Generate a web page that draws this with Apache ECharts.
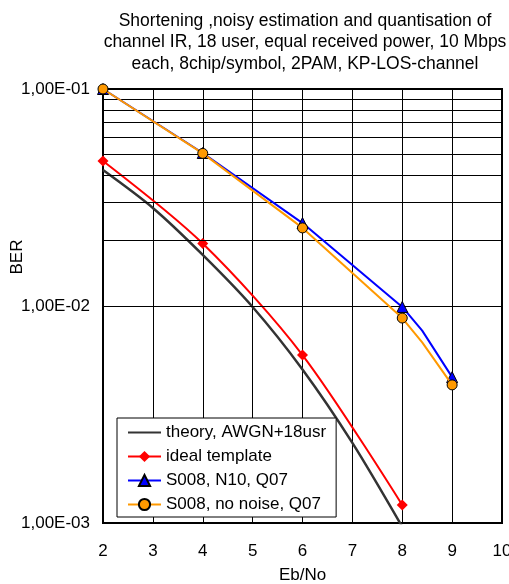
<!DOCTYPE html>
<html>
<head>
<meta charset="utf-8">
<script src="https://cdn.jsdelivr.net/npm/echarts@6/dist/echarts.min.js"></script>
<style>
html,body{margin:0;padding:0;background:#fff;}
#c{width:509px;height:584px;}
</style>
</head>
<body>
<div id="c"></div>
<script>
// ---- data ----
const titleText = 'Shortening ,noisy estimation and quantisation of\nchannel IR, 18 user, equal received power, 10 Mbps\neach, 8chip/symbol, 2PAM, KP-LOS-channel';
const seriesNames = ['theory, AWGN+18usr', 'ideal template', 'S008, N10, Q07', 'S008, no noise, Q07'];
const theoryX = [2, 3, 4, 5, 6, 7, 8];
const theoryY = [0.0423, 0.0283, 0.0172, 0.0099, 0.0051, 0.00234, 0.00096];
const idealX = [2, 4, 6, 8];
const idealY = [0.0466, 0.0194, 0.00594, 0.00121];
const n10X = [2, 4, 6, 8, 8.4, 9];
const n10Y = [0.1, 0.0507, 0.0241, 0.0099, 0.0077, 0.0047];
const noNoiseX = [2, 4, 6, 8, 8.4, 9];
const noNoiseY = [0.1, 0.0505, 0.0229, 0.0088, 0.0068, 0.00433];
const markedX = [2, 3, 4, 5, 6, 7, 8, 9, 10]; // points that carry a marker
const minorGridY = [0.002, 0.003, 0.004, 0.005, 0.006, 0.007, 0.008, 0.009,
                    0.02, 0.03, 0.04, 0.05, 0.06, 0.07, 0.08, 0.09];
const xMin = 2, xMax = 10, yMin = 0.001, yMax = 0.1;

const FONT = 'Liberation Sans';

function pts(xs, ys) {
  return xs.map((x, i) => {
    const d = { value: [x, ys[i]] };
    if (markedX.indexOf(x) < 0) d.symbol = 'none';
    return d;
  });
}
function sciLabel(v) {
  const e = Math.round(Math.log10(v));
  return '1,00E-' + String(-e).padStart(2, '0');
}

const chart = echarts.init(document.getElementById('c'), null, { renderer: 'canvas' });
chart.setOption({
  animation: false,
  backgroundColor: '#fff',
  title: {
    text: titleText,
    left: 300,
    top: 5,
    textAlign: 'center',
    textStyle: { fontFamily: FONT, fontSize: 17.5, fontWeight: 'normal', color: '#000', lineHeight: 21.5 }
  },
  grid: {
    left: 103, right: 7, top: 89, bottom: 61,
    outerBoundsMode: 'none', containLabel: false,
    show: true, borderColor: '#000', borderWidth: 2, backgroundColor: 'transparent'
  },
  legend: {
    data: [
      { name: seriesNames[0], itemStyle: { opacity: 0 } },
      { name: seriesNames[1] },
      { name: seriesNames[2] },
      { name: seriesNames[3] }
    ],
    orient: 'vertical',
    left: 117, top: 418,
    padding: [6, 10, 4, 10],
    itemGap: 7,
    itemWidth: 33, itemHeight: 14,
    backgroundColor: '#fff',
    borderColor: '#000', borderWidth: 1,
    textStyle: { fontFamily: FONT, fontSize: 17, color: '#000' }
  },
  xAxis: {
    type: 'value', min: xMin, max: xMax, interval: 1,
    name: 'Eb/No', nameLocation: 'middle', nameGap: 44,
    nameTextStyle: { fontFamily: FONT, fontSize: 17, color: '#000' },
    axisLine: { show: true, lineStyle: { color: '#000', width: 2 } },
    axisTick: { show: false },
    axisLabel: { fontFamily: FONT, fontSize: 17, color: '#000', margin: 20 },
    splitLine: { show: true, lineStyle: { color: '#000', width: 1 } }
  },
  yAxis: {
    type: 'log', logBase: 10, min: yMin, max: yMax,
    axisLine: { show: true, lineStyle: { color: '#000', width: 2 } },
    axisTick: { show: false },
    axisLabel: { fontFamily: FONT, fontSize: 17, color: '#000', margin: 13, formatter: sciLabel },
    splitLine: { show: true, lineStyle: { color: '#000', width: 1 } }
  },
  graphic: [{
    type: 'text',
    x: 17, y: 257,
    rotation: Math.PI / 2,
    style: { text: 'BER', font: '17px "Liberation Sans"', fill: '#000', align: 'center', verticalAlign: 'middle' }
  }],
  series: [
    {
      name: 'grid-minor', type: 'line', data: [], z: 1, silent: true,
      markLine: {
        silent: true, symbol: ['none', 'none'], label: { show: false },
        lineStyle: { color: '#000', width: 1, type: 'solid' },
        data: minorGridY.map(v => ({ yAxis: v }))
      }
    },
    {
      name: seriesNames[0], type: 'line', z: 3,
      data: pts(theoryX, theoryY).map(d => ({ value: d.value })),
      smooth: 0.3, showSymbol: false, symbol: 'none',
      color: '#333333',
      lineStyle: { color: '#333333', width: 2.5 }
    },
    {
      name: seriesNames[1], type: 'line', z: 4,
      data: pts(idealX, idealY), smooth: 0.3,
      symbol: 'diamond', symbolSize: 11,
      color: '#ff0000',
      itemStyle: { color: '#ff0000' },
      lineStyle: { color: '#ff0000', width: 2 }
    },
    {
      name: seriesNames[2], type: 'line', z: 5,
      data: pts(n10X, n10Y),
      symbol: 'triangle', symbolSize: 11,
      color: '#0000ff',
      itemStyle: { color: '#0000ff', borderColor: '#000', borderWidth: 1 },
      lineStyle: { color: '#0000ff', width: 2 }
    },
    {
      name: seriesNames[3], type: 'line', z: 6,
      data: pts(noNoiseX, noNoiseY),
      symbol: 'circle', symbolSize: 10,
      color: '#ff9900',
      itemStyle: { color: '#ff9900', borderColor: '#000', borderWidth: 1 },
      lineStyle: { color: '#ff9900', width: 2 }
    }
  ]
});
</script>
</body>
</html>
